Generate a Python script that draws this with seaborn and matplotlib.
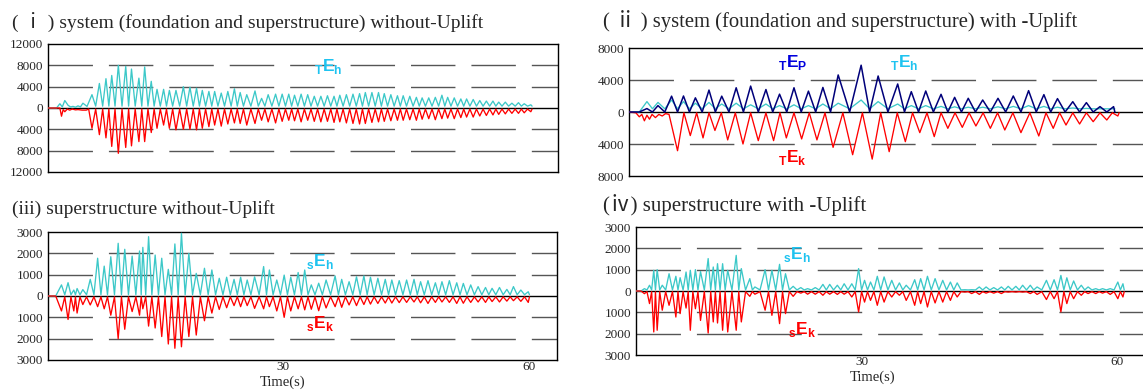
import pandas as pd
import seaborn as sns
import matplotlib.pyplot as plt
from matplotlib.ticker import FixedLocator, FuncFormatter

sns.set_style('white')
plt.rcParams['font.family'] = ['Liberation Serif', 'Noto Sans CJK JP', 'DejaVu Serif']
plt.rcParams['mathtext.fontset'] = 'custom'
plt.rcParams['mathtext.bf'] = 'Liberation Sans:bold'
plt.rcParams['mathtext.rm'] = 'Liberation Sans:bold'

CYAN = '#3cc8c8'
CYAN_TXT = '#1ec3f0'
RED = '#ff0000'
NAVY = '#00007a'
BLUE_TXT = '#0000dd'

# ---------------- (i) system without uplift ----------------
I_T = [6.8, 7.7, 8.5, 9.2, 10.0, 10.9, 11.6, 12.5, 13.2, 14.0,
       14.7, 15.5, 16.2, 17.0, 17.9, 18.7, 19.5, 20.2, 21.0, 21.7,
       22.5, 23.3, 24.1, 24.8, 25.6, 26.6, 27.4, 28.2, 29.1, 29.9,
       30.7, 31.4, 32.2, 33.0, 33.8, 34.6, 35.4, 36.2, 36.9, 37.7,
       38.5, 39.3, 40.0, 40.8, 41.6, 42.3, 43.1, 43.9, 44.6, 45.4,
       46.2, 46.9, 47.7, 48.5, 49.3, 50.0, 50.8, 51.6, 52.3, 53.1,
       53.9, 54.7, 55.5, 56.2, 57.0, 57.8, 58.6, 59.3, 60.1]
I_EH = [2500, 4600, 5500, 6100, 8000, 7800, 7300, 5600, 7700, 5000,
        3500, 3500, 3300, 3300, 4000, 3900, 3700, 3300, 3100, 3100,
        2800, 3100, 3600, 2900, 2500, 3200, 1800, 2500, 2600, 2600,
        2600, 2400, 2600, 2500, 2200, 2200, 2300, 2200, 2400, 2500,
        2600, 2700, 2900, 2900, 2900, 2700, 2500, 2300, 2300, 2200,
        2000, 1900, 1900, 2000, 2400, 2000, 1900, 1700, 1700, 1600,
        1400, 1300, 1300, 1100, 1100, 900, 1000, 800, 600]
I_EK = [-3800, -5000, -5600, -7200, -8500, -7400, -7100, -6300, -6300, -4600,
        -3800, -3200, -3800, -4100, -4000, -4000, -4100, -3800, -3500, -3200,
        -3400, -3000, -2800, -2900, -3200, -2900, -2300, -2600, -2800, -2500,
        -2300, -2400, -2600, -2300, -2500, -2600, -2500, -2700, -2600, -2800,
        -2900, -3000, -2900, -2700, -2600, -2500, -2400, -2300, -2300, -2200,
        -2300, -2100, -2000, -2200, -2000, -1900, -2000, -1800, -1700, -1700,
        -1500, -1400, -1300, -1200, -1100, -1000, -1000, -900, -700]
I_EH_LOW, I_EK_LOW = 350, -200
I_EH_PRE_T = [1.5, 2.5, 2.9, 3.2, 3.5, 3.9, 4.2, 4.5, 4.8, 5.1, 5.4, 5.7, 6.2]
I_EH_PRE_V = [0, 0, 800, 200, 1400, 500, 200, 300, 150, 400, 200, 900, 300]
I_EK_PRE_T = [1.5, 2.9, 3.1, 3.3, 3.5, 3.8, 4.1, 4.4, 4.8, 5.1, 5.6, 6.1, 6.4]
I_EK_PRE_V = [0, 0, -1540, -300, -700, -200, -400, -200, -350, -300, -400, -400, -200]

# ---------------- (ii) system with uplift ----------------
II_TP = [4.7, 6.0, 7.6, 9.0, 10.4, 12.0, 13.5, 15.2, 16.9, 18.7,
         20.3, 22.0, 23.7, 25.4, 27.2, 29.9, 31.9, 34.2, 35.8, 37.5,
         39.3, 40.9, 42.5, 44.2, 46.0, 47.8, 49.6, 51.4, 53.0, 54.8,
         56.4, 58.0, 59.6]
II_EP = [430, 800, 1980, 2000, 1770, 2740, 1980, 3030, 3240, 2810,
         2230, 3030, 2610, 3070, 4630, 5850, 4500, 3500, 2540, 2625,
         2210, 1830, 1710, 1500, 1710, 2000, 2670, 2170, 1670, 1290,
         1170, 670, 670]
II_EH = [1300, 1200, 1500, 1300, 1100, 1200, 1000, 1100, 900, 1000,
         800, 900, 800, 1000, 1100, 1500, 1300, 1000, 800, 800,
         700, 650, 600, 600, 650, 700, 800, 700, 600, 500,
         450, 400, 400]
II_TK = [8.3, 9.8, 11.3, 12.7, 14.2, 16.0, 17.8, 19.6, 21.1, 22.9,
         24.7, 26.6, 28.9, 31.2, 33.2, 35.1, 36.8, 38.5, 40.1, 41.8,
         43.4, 45.1, 46.8, 48.7, 50.8, 52.5, 54.0, 55.6, 57.2, 58.8,
         60.1]
II_EK = [-4840, -2950, -3240, -2310, -3490, -4000, -3580, -3580, -3240, -3370,
         -3490, -4420, -5340, -5890, -4960, -3710, -2580, -3080, -2040, -1920,
         -1750, -2040, -2250, -2580, -3000, -2040, -1630, -1500, -1210, -1000,
         -500]
II_EP_LOW, II_EH_LOW, II_EK_LOW = 0, 400, -100
II_PRE_T = [2.6, 3.8]
II_PRE_V = [0, 0]
II_EK_PRE_T = [2.6, 3.4, 3.8, 4.1, 4.4, 4.7, 5.0, 5.3, 5.7, 6.1, 6.5, 6.9, 7.3]
II_EK_PRE_V = [0, -100, -600, -300, -1100, -400, -900, -300, -700, -300, -500, -200, -300]

# ---------------- (iii) superstructure without uplift ----------------
III_T = [3.1, 3.9, 4.6, 5.0, 5.7, 6.6, 7.5, 8.3, 9.1, 10.0,
         10.8, 11.7, 12.6, 13.0, 13.7, 14.5, 15.3, 16.1, 16.9, 17.7,
         18.6, 19.5, 20.5, 21.4, 22.3, 23.2, 24.1, 24.9, 25.7, 26.6,
         27.7, 28.4, 29.3, 30.2, 31.0, 31.9, 32.7, 33.5, 34.4, 35.3,
         36.4, 37.2, 38.1, 39.0, 39.9, 40.7, 41.6, 42.5, 43.3, 44.2,
         45.1, 46.0, 46.8, 47.7, 48.6, 49.4, 50.3, 51.2, 52.0, 52.9,
         53.8, 54.7, 55.5, 56.4, 57.3, 58.1, 59.0, 59.9]
III_EH = [520, 625, 280, 350, 300, 780, 1770, 1400, 1840, 2470,
          2190, 1870, 2110, 2280, 2780, 1920, 1770, 1250, 2440, 2940,
          2000, 1060, 1300, 1220, 830, 880, 780, 880, 750, 900,
          1380, 1220, 750, 980, 880, 1100, 1220, 520, 600, 750,
          940, 780, 670, 900, 940, 880, 830, 780, 750, 720,
          750, 780, 670, 720, 620, 670, 720, 620, 590, 520,
          440, 400, 360, 400, 310, 440, 280, 200]
III_EK = [-700, -1100, -700, -800, -400, -420, -500, -600, -900, -2000,
          -1560, -730, -900, -600, -1410, -1500, -1900, -2250, -2450, -2380,
          -1900, -1830, -1160, -800, -630, -550, -450, -500, -450, -580,
          -600, -500, -700, -1000, -700, -600, -650, -620, -690, -560,
          -500, -530, -420, -450, -400, -380, -350, -330, -330, -310,
          -300, -280, -320, -350, -300, -280, -300, -350, -340, -300,
          -280, -300, -260, -280, -240, -220, -250, -300]
III_EH_LOW, III_EK_LOW = 60, -40
III_PRE_T = [1.5, 2.4]
III_PRE_V = [0, 0]

# ---------------- (iv) superstructure with uplift ----------------
IV_T = [4.4, 5.0, 5.5, 5.9, 6.5, 7.3, 8.1, 8.6, 9.3, 9.8,
        10.4, 11.0, 11.9, 12.5, 13.0, 13.6, 14.2, 15.2, 15.8, 16.8,
        17.4, 18.6, 19.4, 20.3, 21.0, 21.9, 22.8, 23.6, 24.5, 25.4,
        26.2, 27.1, 27.9, 28.8, 29.6, 30.3, 31.0, 31.8, 32.6, 33.5,
        34.4, 35.2, 36.2, 36.9, 37.7, 38.6, 39.5, 40.4, 41.2, 42.1,
        42.9, 43.8, 44.6, 45.5, 46.4, 47.2, 48.1, 48.9, 49.8, 50.6,
        51.7, 52.6, 53.4, 54.1, 54.9, 55.8, 56.6, 57.5, 58.3, 59.2,
        60.1, 60.7]
IV_EH = [110, 270, 970, 1000, 270, 810, 690, 625, 890, 970,
         1000, 910, 1520, 1125, 1280, 1280, 970, 1670, 1050, 580,
         190, 1000, 970, 1250, 810, 220, 160, 110, 160, 310,
         310, 270, 340, 340, 1050, 500, 420, 690, 660, 500,
         380, 270, 530, 580, 690, 580, 500, 420, 380, 60,
         60, 190, 190, 160, 190, 220, 220, 270, 270, 190,
         500, 530, 730, 620, 470, 270, 190, 110, 110, 110,
         420, 340]
IV_EK = [-125, -590, -1920, -1840, -900, -670, -1220, -1060, -800, -1840,
         -830, -1380, -1970, -1450, -1500, -1840, -1920, -1840, -1450, -250,
         -150, -900, -1140, -1530, -1060, -250, -100, -150, -150, -200,
         -150, -160, -150, -280, -980, -520, -440, -670, -520, -280,
         -200, -440, -670, -590, -750, -560, -520, -440, -280, -50,
         -120, -160, -100, -100, -120, -50, -50, -50, -120, -160,
         -400, -360, -980, -590, -360, -200, -120, -120, -100, -160,
         -360, -280]
IV_EH_LOW, IV_EK_LOW = 50, -30
IV_PRE_T = [3.4, 4.0]
IV_PRE_V = [0, 0]

TITLES = ['( ⅰ ) system (foundation and superstructure) without-Uplift',
          '( ⅱ ) system (foundation and superstructure) with -Uplift',
          '(iii) superstructure without-Uplift',
          '(ⅳ) superstructure with -Uplift']


def wave(pre_t, pre_v, peak_t, peak_v, low):
    # polyline through the read peaks, dropping back to the trough level between them
    t, v = list(pre_t), list(pre_v)
    for i, (pt, pv) in enumerate(zip(peak_t, peak_v)):
        nxt = peak_t[i + 1] if i + 1 < len(peak_t) else pt + 0.3
        t += [pt, (pt + nxt) / 2]
        v += [pv, low]
    return pd.DataFrame({'t': t, 'v': v})


def draw(ax, df, color, lw=0.95):
    sns.lineplot(data=df, x='t', y='v', ax=ax, color=color, lw=lw,
                 sort=False, estimator=None, zorder=3)


def frame(ax, lim, step, xlim, xticks, right_spine=True):
    ax.set_xlim(*xlim)
    ax.set_ylim(-lim, lim)
    ticks = list(range(-lim, lim + 1, step))
    ax.yaxis.set_major_locator(FixedLocator(ticks))
    ax.yaxis.set_major_formatter(FuncFormatter(lambda y, p: f'{abs(int(y))}'))
    for g in ticks:
        if g not in (0, -lim, lim):
            ax.axhline(g, color='#555555', lw=1.0, dashes=(32, 11.5), zorder=1)
    ax.axhline(0, color='black', lw=1.0, zorder=2)
    ax.set_xticks(xticks)
    ax.tick_params(axis='y', length=0, labelsize=9.5, pad=3.5)
    ax.tick_params(axis='x', length=0, labelsize=9.5, pad=1.0)
    ax.set_xlabel('')
    ax.set_ylabel('')
    for sp in ax.spines.values():
        sp.set_color('black')
        sp.set_linewidth(1.0)
    ax.spines['right'].set_visible(right_spine)


def label(ax, x, y, pre, sub, color):
    ax.text(x, y, r'${}_{\mathbf{%s}}\mathbf{E}_{\mathbf{%s}}$' % (pre, sub),
            color=color, fontsize=12.5, va='baseline', ha='left', zorder=4)


W, H = 1143, 392
fig = plt.figure(figsize=(W / 100, H / 100), dpi=100)


def box(l, r, t, b):
    return [l / W, 1 - b / H, (r - l) / W, (b - t) / H]


ax1 = fig.add_axes(box(48, 558, 44, 172))
ax2 = fig.add_axes(box(629, 1143, 48, 176))
ax3 = fig.add_axes(box(48, 557, 232, 360))
ax4 = fig.add_axes(box(636, 1143, 227, 355))

# (i)
draw(ax1, wave(I_EH_PRE_T, I_EH_PRE_V, I_T, I_EH, I_EH_LOW), CYAN)
draw(ax1, wave(I_EK_PRE_T, I_EK_PRE_V, I_T, I_EK, I_EK_LOW), RED)
frame(ax1, 12000, 4000, (1.46, 63.4), [])
label(ax1, 33.8, 7000, 'T', 'h', CYAN_TXT)

# (ii)
draw(ax2, wave(II_PRE_T, II_PRE_V, II_TP, II_EH, II_EH_LOW), CYAN)
draw(ax2, wave(II_EK_PRE_T, II_EK_PRE_V, II_TK, II_EK, II_EK_LOW), RED)
draw(ax2, wave(II_PRE_T, II_PRE_V, II_TP, II_EP, II_EP_LOW), NAVY, lw=1.1)
frame(ax2, 8000, 4000, (2.59, 63.06), [], right_spine=False)
label(ax2, 20.1, 5600, 'T', 'P', BLUE_TXT)
label(ax2, 33.3, 5600, 'T', 'h', CYAN_TXT)
label(ax2, 20.1, -6300, 'T', 'k', RED)

# (iii)
draw(ax3, wave(III_PRE_T, III_PRE_V, III_T, III_EH, III_EH_LOW), CYAN)
draw(ax3, wave(III_PRE_T, III_PRE_V, III_T, III_EK, III_EK_LOW), RED)
frame(ax3, 3000, 1000, (1.46, 63.4), [30, 60])
label(ax3, 32.9, 1400, 's', 'h', CYAN_TXT)
label(ax3, 32.9, -1500, 's', 'k', RED)
ax3.set_xlabel('Time(s)', fontsize=10.5)
ax3.xaxis.set_label_coords(0.46, -0.125)

# (iv)
draw(ax4, wave(IV_PRE_T, IV_PRE_V, IV_T, IV_EH, IV_EH_LOW), CYAN)
draw(ax4, wave(IV_PRE_T, IV_PRE_V, IV_T, IV_EK, IV_EK_LOW), RED)
frame(ax4, 3000, 1000, (3.41, 63.06), [30, 60], right_spine=False)
label(ax4, 20.7, 1500, 's', 'h', CYAN_TXT)
label(ax4, 21.3, -2030, 's', 'k', RED)
ax4.set_xlabel('Time(s)', fontsize=10.5)
ax4.xaxis.set_label_coords(0.467, -0.125)

# panel titles
fig.text(12 / W, 1 - 28 / H, TITLES[0], fontsize=14, ha='left', va='baseline')
fig.text(603 / W, 1 - 27 / H, TITLES[1], fontsize=14.9, ha='left', va='baseline')
fig.text(12 / W, 1 - 214 / H, TITLES[2], fontsize=14, ha='left', va='baseline')
fig.text(603 / W, 1 - 211 / H, TITLES[3], fontsize=15, ha='left', va='baseline')

fig.savefig('out.png', dpi=100)
